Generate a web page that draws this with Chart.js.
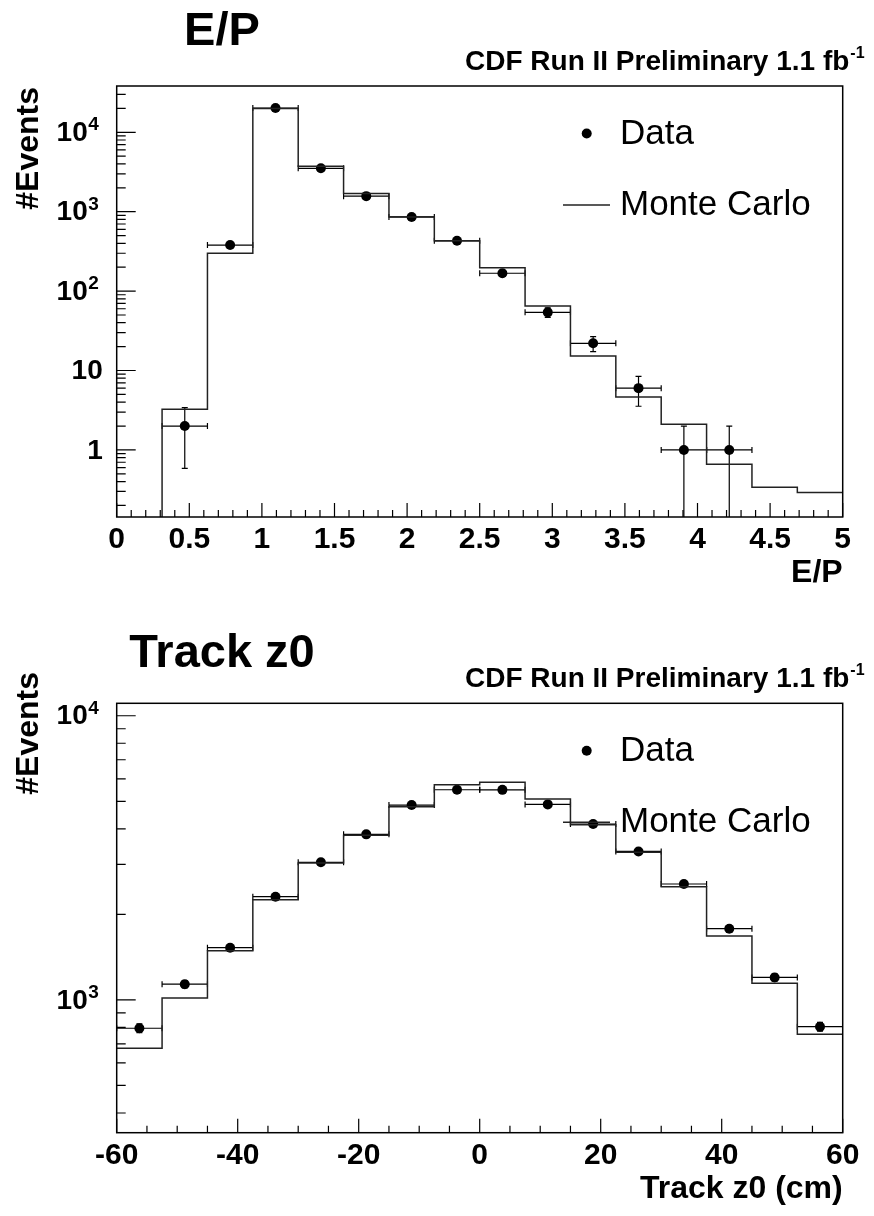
<!DOCTYPE html>
<html>
<head>
<meta charset="utf-8">
<script src="https://cdn.jsdelivr.net/npm/chart.js@4/dist/chart.umd.min.js"></script>
<style>
html,body{margin:0;padding:0;background:#fff;}
.panel{position:absolute;left:0;width:874px;height:608px;}
</style>
</head>
<body>
<div class="panel" style="top:0px"><canvas id="c1" width="874" height="608"></canvas></div>
<div class="panel" style="top:608px"><canvas id="c2" width="874" height="608"></canvas></div>
<script>
// ---------- DATA ----------
const epBinEdges = [0, 0.3125, 0.625, 0.9375, 1.25, 1.5625, 1.875, 2.1875, 2.5, 2.8125, 3.125, 3.4375, 3.75, 4.0625, 4.375, 4.6875, 5];
const epMC   = [0, 3.25, 299, 19900, 3750, 1690, 860, 430, 197, 65, 15.2, 4.64, 2.1, 0.66, 0.34, 0.29];
const epData = [0, 2, 380, 20200, 3520, 1570, 860, 430, 168, 54, 22, 6, 1, 1, 0, 0];
const epXTicks = ['0', '0.5', '1', '1.5', '2', '2.5', '3', '3.5', '4', '4.5', '5'];

const z0BinEdges = [-60, -52.5, -45, -37.5, -30, -22.5, -15, -7.5, 0, 7.5, 15, 22.5, 30, 37.5, 45, 52.5, 60];
const z0MC   = [676, 1016, 1490, 2250, 3030, 3800, 4780, 5720, 5830, 5090, 4130, 3310, 2500, 1680, 1145, 757];
const z0Data = [795, 1136, 1527, 2308, 3050, 3825, 4850, 5490, 5485, 4875, 4160, 3330, 2558, 1781, 1200, 805];
const z0XTicks = ['-60', '-40', '-20', '0', '20', '40', '60'];

const seriesNames = ['Data', 'Monte Carlo'];
const lumiLabel = 'CDF Run II Preliminary 1.1 fb';
const lumiExp = '-1';

// ---------- STYLE / LAYOUT ----------
const FONT = '"Liberation Sans", Arial, Helvetica, sans-serif';

function stepPoints(edges, vals, floor) {
  const pts = [];
  for (let i = 0; i < vals.length; i++) pts.push({x: edges[i], y: vals[i] > 0 ? vals[i] : floor});
  const last = vals[vals.length - 1];
  pts.push({x: edges[edges.length - 1], y: last > 0 ? last : floor});
  return pts;
}
function dataPoints(edges, vals) {
  const pts = [];
  for (let i = 0; i < vals.length; i++) if (vals[i] > 0) pts.push({x: (edges[i] + edges[i + 1]) / 2, y: vals[i]});
  return pts;
}

const rootStyle = {
  id: 'rootStyle',
  beforeDatasetsDraw(chart) {
    const p = chart.options.plugins.rootStyle;
    const {ctx, chartArea: ca, scales: {x, y}} = chart;
    ctx.save();
    ctx.beginPath(); ctx.rect(ca.left, ca.top, ca.right - ca.left, ca.bottom - ca.top); ctx.clip();
    ctx.strokeStyle = '#000'; ctx.lineWidth = 1.2;
    p.data.forEach((n, i) => {
      if (n <= 0) return;
      const lo = p.edges[i], hi = p.edges[i + 1];
      const px = x.getPixelForValue((lo + hi) / 2), py = y.getPixelForValue(n);
      const pl = x.getPixelForValue(lo), pr = x.getPixelForValue(hi);
      const e = Math.sqrt(n);
      const pt = y.getPixelForValue(n + e);
      const hasLo = n - e > 0;
      const pb = hasLo ? y.getPixelForValue(n - e) : ca.bottom + 5;
      ctx.beginPath();
      ctx.moveTo(pl, py); ctx.lineTo(pr, py);
      ctx.moveTo(pl, py - 3); ctx.lineTo(pl, py + 3);
      ctx.moveTo(pr, py - 3); ctx.lineTo(pr, py + 3);
      ctx.moveTo(px, pt); ctx.lineTo(px, pb);
      ctx.moveTo(px - 3, pt); ctx.lineTo(px + 3, pt);
      if (hasLo) { ctx.moveTo(px - 3, pb); ctx.lineTo(px + 3, pb); }
      ctx.stroke();
    });
    ctx.restore();
  },
  afterDraw(chart) {
    const p = chart.options.plugins.rootStyle;
    const {ctx, chartArea: ca, scales: {x, y}} = chart;
    ctx.save();
    // frame
    ctx.strokeStyle = '#000'; ctx.lineWidth = 1.5;
    ctx.strokeRect(ca.left, ca.top, ca.right - ca.left, ca.bottom - ca.top);
    // x ticks (inside)
    ctx.lineWidth = 1.2;
    ctx.beginPath();
    const nx = Math.round((x.max - x.min) / p.xMinor);
    for (let i = 0; i <= nx; i++) {
      const v = x.min + i * p.xMinor;
      const major = i % p.xMajorEvery === 0;
      const px = x.getPixelForValue(v);
      ctx.moveTo(px, ca.bottom); ctx.lineTo(px, ca.bottom - (major ? 14 : 7));
    }
    // y ticks (log, inside)
    const d0 = Math.floor(Math.log10(y.min)), d1 = Math.ceil(Math.log10(y.max));
    for (let d = d0; d <= d1; d++) {
      for (let k = 1; k <= 9; k++) {
        const v = k * Math.pow(10, d);
        if (v < y.min || v > y.max) continue;
        const py = y.getPixelForValue(v);
        ctx.moveTo(ca.left, py); ctx.lineTo(ca.left + (k === 1 ? 19 : 9), py);
      }
    }
    ctx.stroke();

    ctx.fillStyle = '#000';
    // y tick labels: powers of ten with raised exponents, placed by the log scale
    for (let d = d0; d <= d1; d++) {
      const v = Math.pow(10, d);
      if (v < y.min || v > y.max) continue;
      const py = y.getPixelForValue(v);
      ctx.textBaseline = 'middle';
      ctx.font = 'bold 28px ' + FONT;
      if (d === 0 || d === 1) {
        ctx.textAlign = 'right';
        ctx.fillText(d === 0 ? '1' : '10', ca.left - 14, py + 1);
      } else {
        ctx.textAlign = 'right';
        ctx.fillText('10', ca.left - 29, py + 1);
        ctx.font = 'bold 19px ' + FONT;
        ctx.textAlign = 'left';
        ctx.textBaseline = 'alphabetic';
        ctx.fillText(String(d), ca.left - 28.5, py - 2);
      }
    }
    ctx.textBaseline = 'alphabetic';
    // title
    ctx.font = 'bold 47px ' + FONT;
    ctx.textAlign = 'center';
    ctx.fillText(p.title, 222, p.titleBaseline);
    // lumi label
    ctx.font = 'bold 28px ' + FONT;
    ctx.textAlign = 'left';
    ctx.fillText(lumiLabel, 465, ca.top - 16);
    const w = ctx.measureText(lumiLabel).width;
    ctx.font = 'bold 16px ' + FONT;
    ctx.fillText(lumiExp, 465 + w + 1, ca.top - 28);
    // x title
    ctx.font = 'bold 32px ' + FONT;
    ctx.textAlign = 'right';
    ctx.fillText(p.xTitle, ca.right, ca.bottom + 65);
    // y title
    ctx.save();
    ctx.translate(38, p.yTitleEnd);
    ctx.rotate(-Math.PI / 2);
    ctx.textAlign = 'right';
    ctx.fillText('#Events', 0, 0);
    ctx.restore();
    // legend
    ctx.font = '35px ' + FONT;
    ctx.textAlign = 'left';
    ctx.beginPath(); ctx.arc(586.7, ca.top + 47.5, 5, 0, Math.PI * 2); ctx.fill();
    ctx.fillText(seriesNames[0], 620, ca.top + 58);
    ctx.strokeStyle = '#222'; ctx.lineWidth = 1.5;
    ctx.beginPath(); ctx.moveTo(563, ca.top + 119); ctx.lineTo(610, ca.top + 119); ctx.stroke();
    ctx.fillText(seriesNames[1], 620, ca.top + 129);
    ctx.restore();
  }
};

function makePanel(id, cfg) {
  const H = 608;
  return new Chart(document.getElementById(id), {
    type: 'scatter',
    data: {
      datasets: [
        {
          type: 'line', label: seriesNames[1],
          data: stepPoints(cfg.edges, cfg.mc, cfg.yMin / 100),
          stepped: true, borderColor: '#222', borderWidth: 1.5,
          pointRadius: 0, fill: false, tension: 0
        },
        {
          type: 'scatter', label: seriesNames[0],
          data: dataPoints(cfg.edges, cfg.data),
          pointRadius: 5, pointBackgroundColor: '#000', pointBorderColor: '#000', pointBorderWidth: 0
        }
      ]
    },
    options: {
      responsive: false, animation: false, events: [],
      layout: {padding: {left: 0, right: 874 - cfg.frame.right, top: cfg.frame.top, bottom: 0}},
      plugins: {
        legend: {display: false}, tooltip: {enabled: false}, title: {display: false},
        rootStyle: {
          edges: cfg.edges, data: cfg.data, xMinor: cfg.xMinor, xMajorEvery: cfg.xMajorEvery,
          title: cfg.title, titleBaseline: cfg.titleBaseline, xTitle: cfg.xTitle, yTitleEnd: cfg.yTitleEnd
        }
      },
      scales: {
        x: {
          type: 'linear', min: cfg.xMin, max: cfg.xMax,
          ticks: {
            stepSize: cfg.xStep, autoSkip: false, maxRotation: 0, color: '#000', padding: 5,
            font: {family: FONT, weight: 'bold', size: 30},
            callback: (v, i) => cfg.xTicks[i] !== undefined ? cfg.xTicks[i] : ''
          },
          grid: {display: false, drawTicks: false}, border: {display: false},
          afterFit: s => { s.height = H - cfg.frame.bottom; }
        },
        y: {
          type: 'logarithmic', min: cfg.yMin, max: cfg.yMax,
          ticks: {display: false},
          grid: {display: false, drawTicks: false}, border: {display: false},
          afterFit: s => { s.width = cfg.frame.left; }
        }
      }
    },
    plugins: [rootStyle]
  });
}

makePanel('c1', {
  edges: epBinEdges, mc: epMC, data: epData, xTicks: epXTicks,
  xMin: 0, xMax: 5, xStep: 0.5, xMinor: 0.1, xMajorEvery: 5,
  yMin: 0.143, yMax: 38300,
  frame: {left: 116.7, right: 842.7, top: 86, bottom: 517},
  title: 'E/P', titleBaseline: 45, xTitle: 'E/P', yTitleEnd: 87
});
makePanel('c2', {
  edges: z0BinEdges, mc: z0MC, data: z0Data, xTicks: z0XTicks,
  xMin: -60, xMax: 60, xStep: 20, xMinor: 5, xMajorEvery: 4,
  yMin: 341, yMax: 11060,
  frame: {left: 116.7, right: 842.7, top: 95.3, bottom: 524.7},
  title: 'Track z0', titleBaseline: 59, xTitle: 'Track z0 (cm)', yTitleEnd: 64
});
</script>
</body>
</html>
